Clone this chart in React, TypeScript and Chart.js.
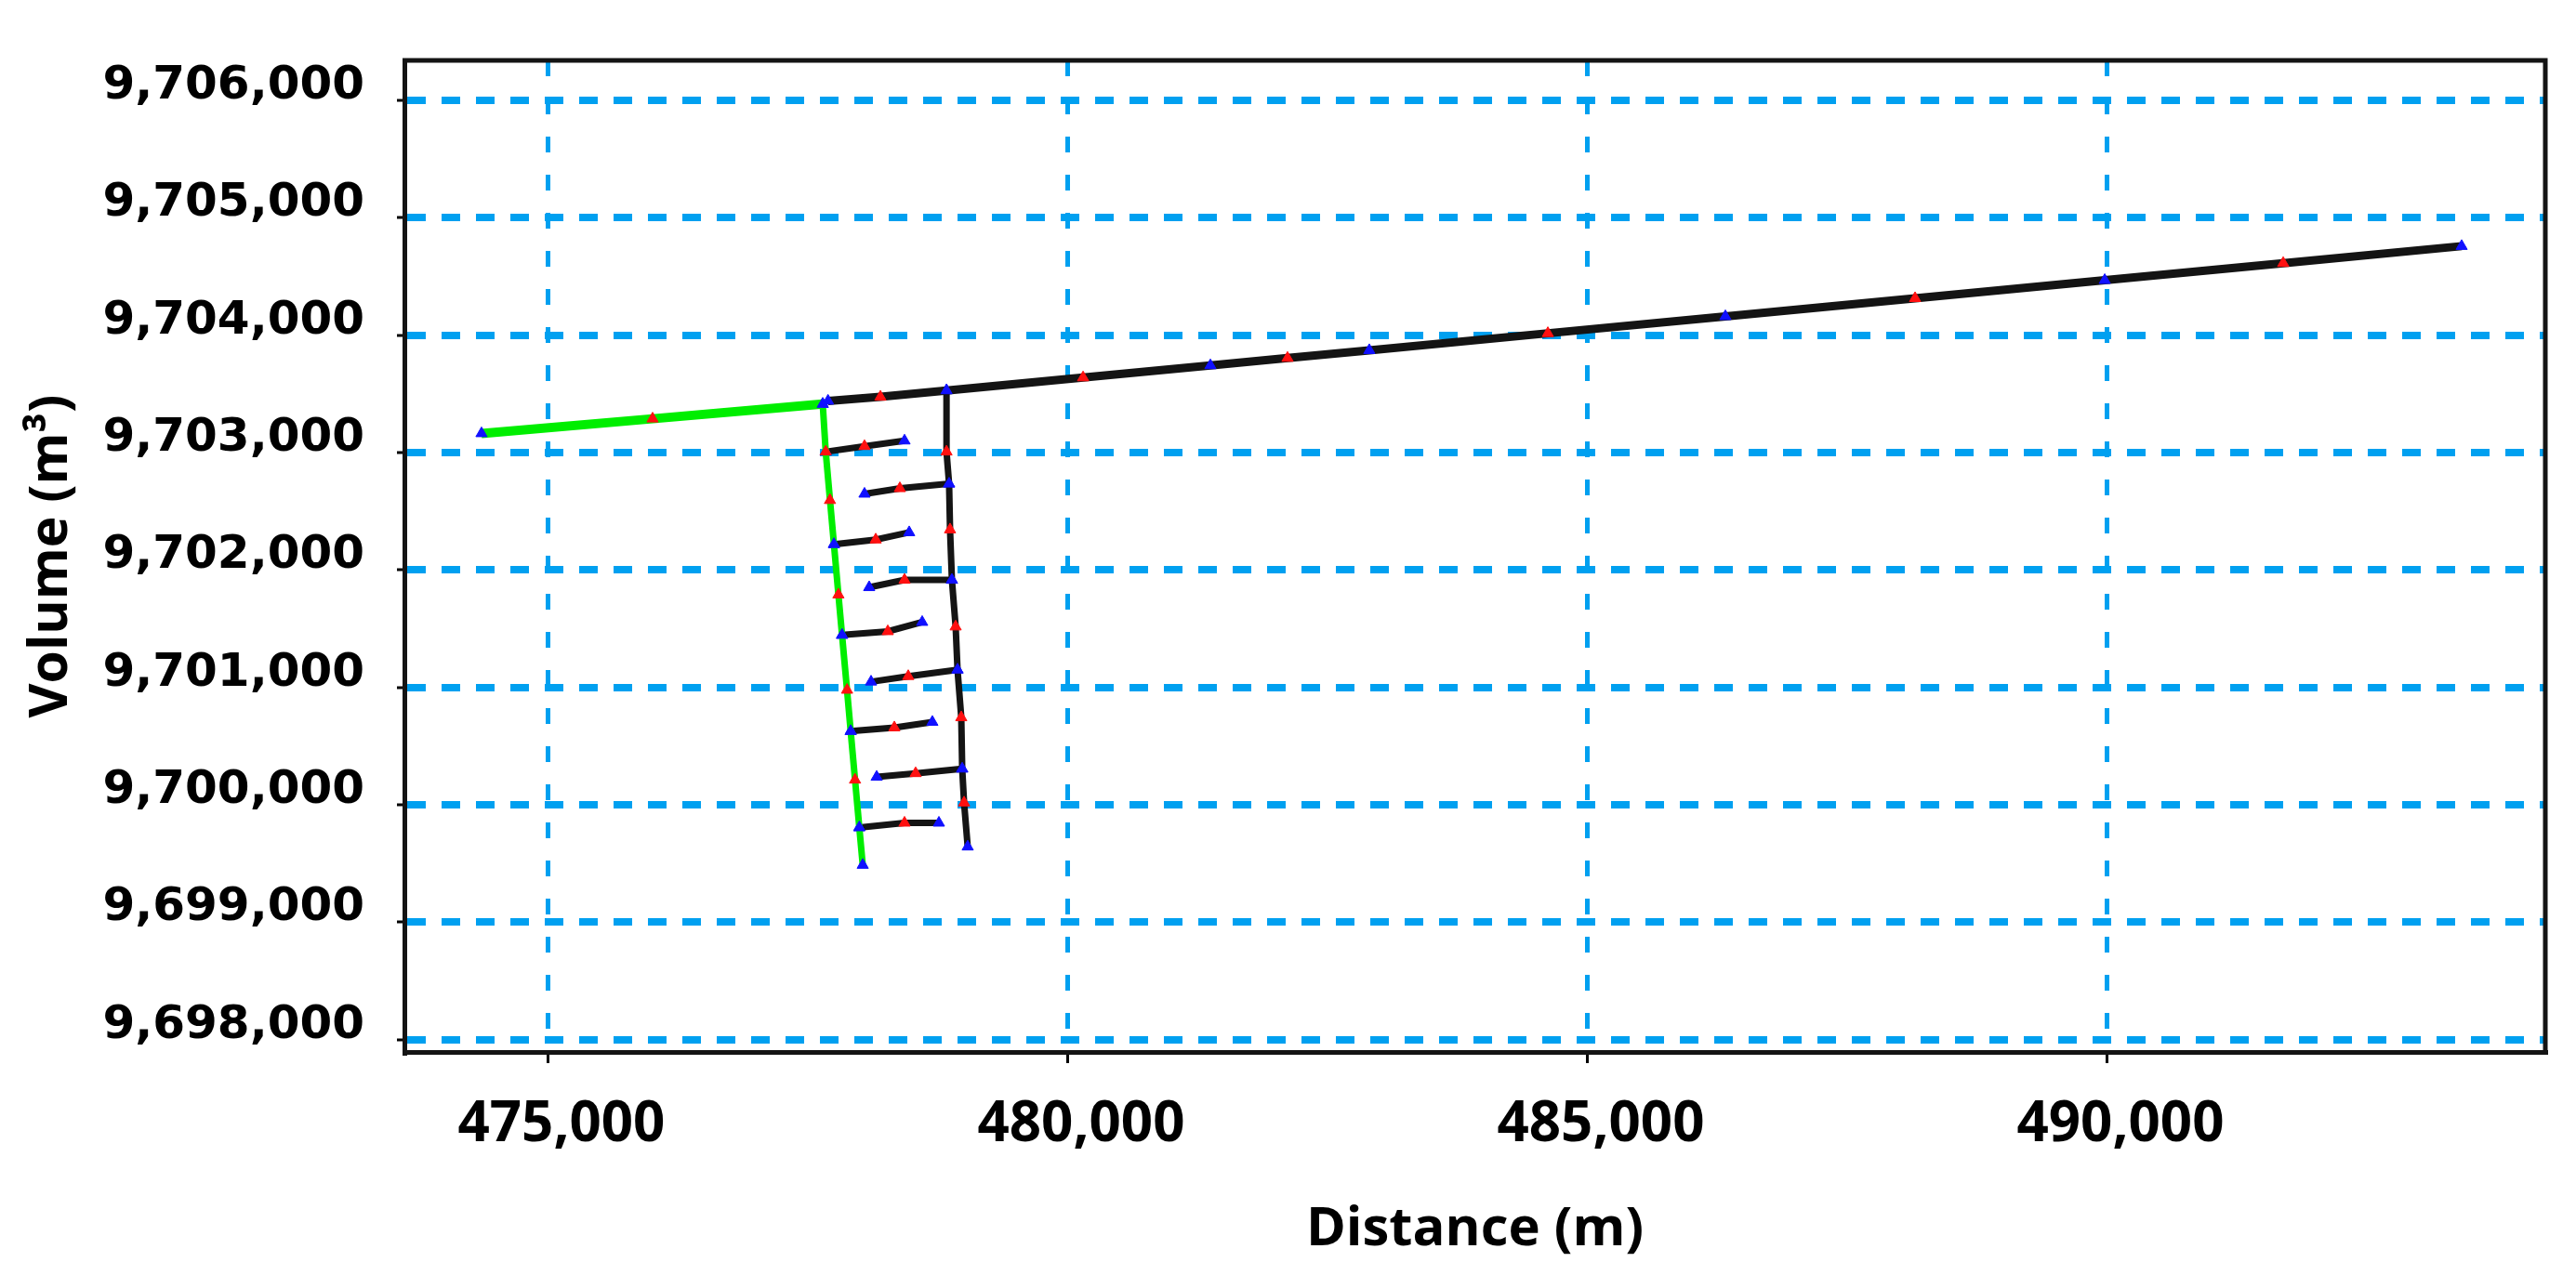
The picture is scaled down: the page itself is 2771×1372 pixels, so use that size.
import React, { useEffect, useRef } from 'react';
import { Chart, registerables } from 'chart.js';

Chart.register(...registerables);

// ---- axis ranges and ticks ----
const xTicks = [475000, 480000, 485000, 490000];
const yTicks = [9698000, 9699000, 9700000, 9701000, 9702000, 9703000, 9704000, 9705000, 9706000];
const xRange = [473614, 494213];
const yRange = [9697895, 9706340];

// ---- green upstream reach ----
const greenTopX = [474356, 476002, 477639];
const greenTopY = [9703163, 9703288, 9703413];
const greenTopMarks = ['blue', 'red', 'blue'];

// ---- green left column of the meander ----
const greenColX = [477639, 477668, 477709, 477747, 477790, 477825, 477873, 477908, 477950, 477991, 478024];
const greenColY = [9703413, 9703007, 9702594, 9702219, 9701790, 9701446, 9700978, 9700627, 9700213, 9699807, 9699487];
const greenColMarks = ['blue', 'red', 'red', 'blue', 'red', 'blue', 'red', 'blue', 'red', 'blue', 'blue'];

// ---- black main reach ----
const mainX = [477690, 478194, 478830, 480144, 481369, 482111, 482898, 484616, 486324, 488149, 489974, 491691, 493408];
const mainY = [9703440, 9703474, 9703529, 9703639, 9703742, 9703805, 9703871, 9704016, 9704160, 9704314, 9704468, 9704613, 9704758];
const mainMarks = ['blue', 'red', 'blue', 'red', 'blue', 'red', 'blue', 'red', 'blue', 'red', 'blue', 'red', 'blue'];

// ---- black right column of the meander ----
const rightX = [478830, 478830, 478855, 478864, 478882, 478918, 478936, 478972, 478981, 478999, 479034];
const rightY = [9703529, 9703007, 9702734, 9702344, 9701915, 9701517, 9701150, 9700744, 9700307, 9700018, 9699643];
const rightMarks = ['blue', 'red', 'blue', 'red', 'blue', 'red', 'blue', 'red', 'blue', 'red', 'blue'];

// ---- black rungs (left, middle, right) ----
const rungX = [
  [477668, 478041, 478426],
  [478041, 478381, 478855],
  [477747, 478149, 478471],
  [478086, 478426, 478882],
  [477825, 478265, 478596],
  [478104, 478462, 478936],
  [477908, 478328, 478694],
  [478158, 478533, 478981],
  [477991, 478426, 478757],
];
const rungY = [
  [9703007, 9703054, 9703101],
  [9702648, 9702695, 9702734],
  [9702219, 9702258, 9702320],
  [9701852, 9701915, 9701915],
  [9701446, 9701477, 9701556],
  [9701048, 9701095, 9701150],
  [9700627, 9700658, 9700705],
  [9700237, 9700268, 9700307],
  [9699807, 9699846, 9699846],
];
const rungMarks = ['blue', 'red', 'blue'];

const MARK_COLORS: Record<string, string> = { red: '#ff1010', blue: '#1010ff' };
const GREEN = '#00ee00';
const BLACK = '#141414';
const GRID_BLUE = '#00a0f0';

function series(xs: number[], ys: number[], marks: string[], color: string, width: number) {
  const cols = marks.map((m) => MARK_COLORS[m]);
  return {
    data: xs.map((x, i) => ({ x, y: ys[i] })),
    borderColor: color,
    backgroundColor: color,
    borderWidth: width,
    showLine: true,
    tension: 0,
    pointStyle: 'triangle',
    pointRadius: 7,
    pointBackgroundColor: cols,
    pointBorderColor: cols,
    pointBorderWidth: 1,
  };
}

const framePlugin = {
  id: 'frame',
  afterDraw(chart: any) {
    const { ctx, chartArea: a } = chart;
    ctx.save();
    ctx.strokeStyle = BLACK;
    ctx.lineWidth = 5;
    ctx.beginPath();
    ctx.moveTo(a.left - 2, a.top);
    ctx.lineTo(a.right, a.top);
    ctx.lineTo(a.right, a.bottom + 2);
    ctx.stroke();
    ctx.restore();
  },
};

const fmt = (v: number | string) => Number(v).toLocaleString('en-US');

export default function App() {
  const ref = useRef<HTMLCanvasElement | null>(null);

  useEffect(() => {
    if (!ref.current) return;
    const datasets: any[] = [
      series(greenTopX, greenTopY, greenTopMarks, GREEN, 10),
      series(greenColX, greenColY, greenColMarks, GREEN, 7),
      series(mainX, mainY, mainMarks, BLACK, 9),
      series(rightX, rightY, rightMarks, BLACK, 7),
      ...rungX.map((xs, i) => series(xs, rungY[i], rungMarks, BLACK, 7)),
    ];

    const chart = new Chart(ref.current, {
      type: 'scatter',
      data: { datasets },
      plugins: [framePlugin],
      options: {
        animation: false,
        responsive: false,
        devicePixelRatio: 1,
        layout: { padding: { left: 0, top: 50, right: 33, bottom: 0 } },
        plugins: { legend: { display: false }, tooltip: { enabled: false } },
        scales: {
          x: {
            type: 'linear',
            min: xRange[0],
            max: xRange[1],
            afterBuildTicks: (s: any) => {
              s.ticks = xTicks.map((v) => ({ value: v }));
            },
            afterFit: (s: any) => {
              s.height = 240;
            },
            ticks: {
              callback: (v: any) => fmt(v),
              color: '#000',
              font: { family: "'Open Sans'", weight: 'bold', size: 60 },
              padding: 31,
              labelOffset: 14,
              maxRotation: 0,
              autoSkip: false,
            },
            grid: {
              color: GRID_BLUE,
              lineWidth: 5,
              drawTicks: true,
              tickColor: '#000',
              tickLength: 12,
              tickWidth: 3,
              tickBorderDash: [],
            },
            border: { display: true, color: BLACK, width: 5, dash: [17, 24] },
            title: {
              display: true,
              text: 'Distance (m)',
              color: '#000',
              font: { family: "'Open Sans'", weight: 'bold', size: 58 },
              padding: { top: 0, bottom: 14 },
            },
          },
          y: {
            type: 'linear',
            min: yRange[0],
            max: yRange[1],
            afterBuildTicks: (s: any) => {
              s.ticks = yTicks.map((v) => ({ value: v }));
            },
            afterFit: (s: any) => {
              s.width = 435;
            },
            ticks: {
              callback: (v: any) => fmt(v),
              color: '#000',
              font: { family: "'DejaVu Sans'", weight: 'bold', size: 50 },
              padding: 35,
              labelOffset: -15,
              autoSkip: false,
            },
            grid: {
              color: GRID_BLUE,
              lineWidth: 8,
              drawTicks: true,
              tickColor: '#000',
              tickLength: 8,
              tickWidth: 3,
              tickBorderDash: [],
            },
            border: { display: true, color: BLACK, width: 5, dash: [20, 17] },
            title: {
              display: true,
              text: 'Volume (m³)',
              color: '#000',
              font: { family: "'Open Sans'", weight: 'bold', size: 57 },
              padding: { top: 22, bottom: 0 },
            },
          },
        },
      } as any,
    });
    return () => chart.destroy();
  }, []);

  return (
    <div style={{ position: 'fixed', left: 0, top: 0, width: 2771, height: 1372, background: '#fff' }}>
      <canvas ref={ref} width={2771} height={1372} style={{ display: 'block', width: 2771, height: 1372 }} />
    </div>
  );
}
